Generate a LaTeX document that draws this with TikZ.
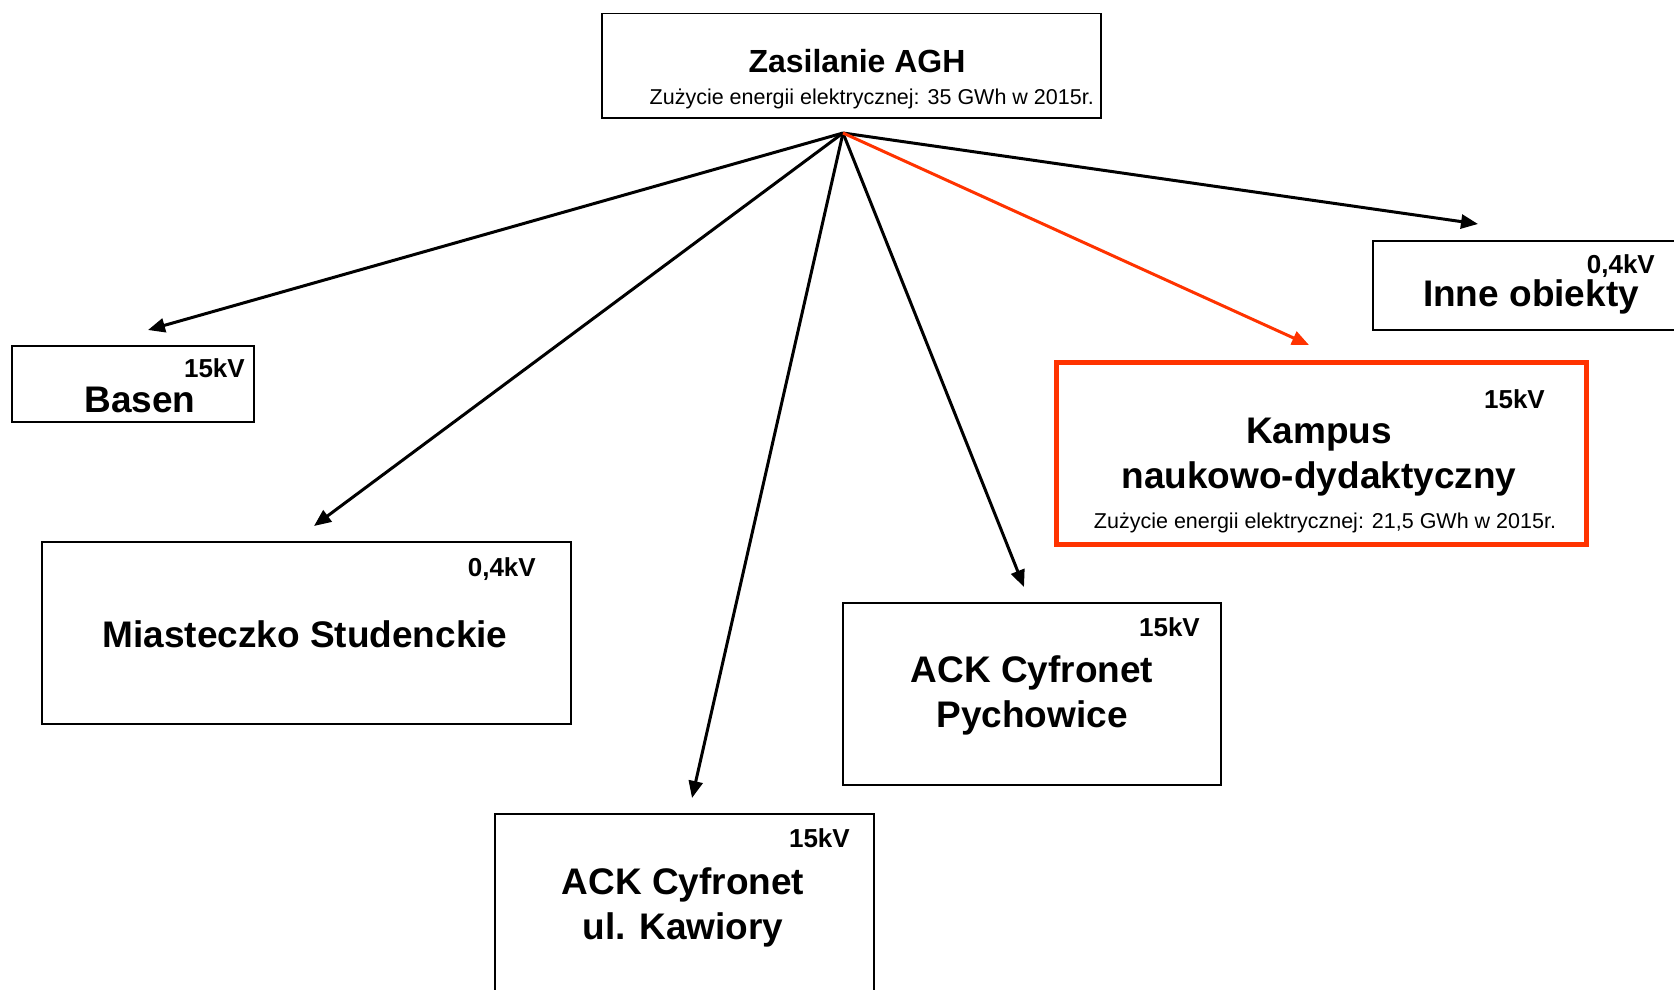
\documentclass[tikz,border=0pt]{standalone}
\usepackage{fontspec}
\setmainfont{Liberation Sans}
\usetikzlibrary{arrows.meta,positioning}
\definecolor{kampusred}{RGB}{255,51,0}

\begin{document}
\begin{tikzpicture}[x=1pt,y=-1pt,
  box/.style={draw,line width=1.5pt,rectangle,inner sep=0pt,anchor=north west},
  redbox/.style={box,draw=kampusred,line width=5pt},
  title/.style={font=\fontsize{37}{45}\selectfont\bfseries,anchor=base,align=center,inner sep=0pt},
  volt/.style={font=\fontsize{26}{30}\selectfont\bfseries,anchor=base east,inner sep=0pt},
  usage/.style={font=\fontsize{21.5}{26}\selectfont,anchor=base,inner sep=0pt},
  feed/.style={line width=3pt,-{Triangle[length=17pt,width=14pt]}}]
  \useasboundingbox (0,0) rectangle (1674,990);

  % boxes
  \node[box,minimum width=499pt,minimum height=104pt] (agh) at (601,13) {};
  \node[box,minimum width=242pt,minimum height=76pt] (basen) at (11,345) {};
  \node[box,minimum width=529pt,minimum height=182pt] (miasteczko) at (41,541) {};
  \node[box,minimum width=379pt,minimum height=190pt] (kawiory) at (494,813) {};
  \node[box,minimum width=378pt,minimum height=182pt] (pychowice) at (842,602) {};
  \node[redbox,minimum width=530pt,minimum height=182pt] (kampus) at (1054,360) {};
  \node[box,minimum width=320pt,minimum height=89pt] (inne) at (1372,240) {};

  % texts (base = last line)
  \node[title,font=\fontsize{32}{38}\selectfont\bfseries] (aghtitle) at (857,73) {Zasilanie AGH};
  \node[usage,anchor=base east] (aghusage) at (1094,104) {Zużycie energii elektrycznej: 35 GWh w 2015r.};
  \node[volt] (basenkv) at (245,377) {15kV};
  \node[title] (basentitle) at (140,412) {Basen};
  \node[volt] (miasteczkokv) at (536,576) {0,4kV};
  \node[title] (miasteczkotitle) at (305,647) {Miasteczko Studenckie};
  \node[volt] (kawiorykv) at (850,847) {15kV};
  \node[title] (kawiorytitle) at (683,939) {ACK Cyfronet\\ul. Kawiory};
  \node[volt] (pychowicekv) at (1200,636) {15kV};
  \node[title] (pychowicetitle) at (1032,727) {ACK Cyfronet\\Pychowice};
  \node[volt] (kampuskv) at (1545,408) {15kV};
  \node[title] (kampustitle) at (1319,488) {Kampus\\naukowo-dydaktyczny};
  \node[usage] (kampususage) at (1325,528) {Zużycie energii elektrycznej: 21,5 GWh w 2015r.};
  \node[volt] (innekv) at (1655,273) {0,4kV};
  \node[title] (innetitle) at (1531,306) {Inne obiekty};

  % feeders
  \coordinate (hub) at (843,133);
  \coordinate (tobasen) at (148,330);
  \coordinate (tomiasteczko) at (314,526);
  \coordinate (tokawiory) at (692,798);
  \coordinate (topychowice) at (1024,587);
  \coordinate (tokampus) at (1309,345);
  \coordinate (toinne) at (1478,224);
  \foreach \t in {tobasen,tomiasteczko,tokawiory,topychowice,toinne}
    \draw[feed] (hub) -- (\t);
  \draw[feed,kampusred] (hub) -- (tokampus);
\end{tikzpicture}
\end{document}
